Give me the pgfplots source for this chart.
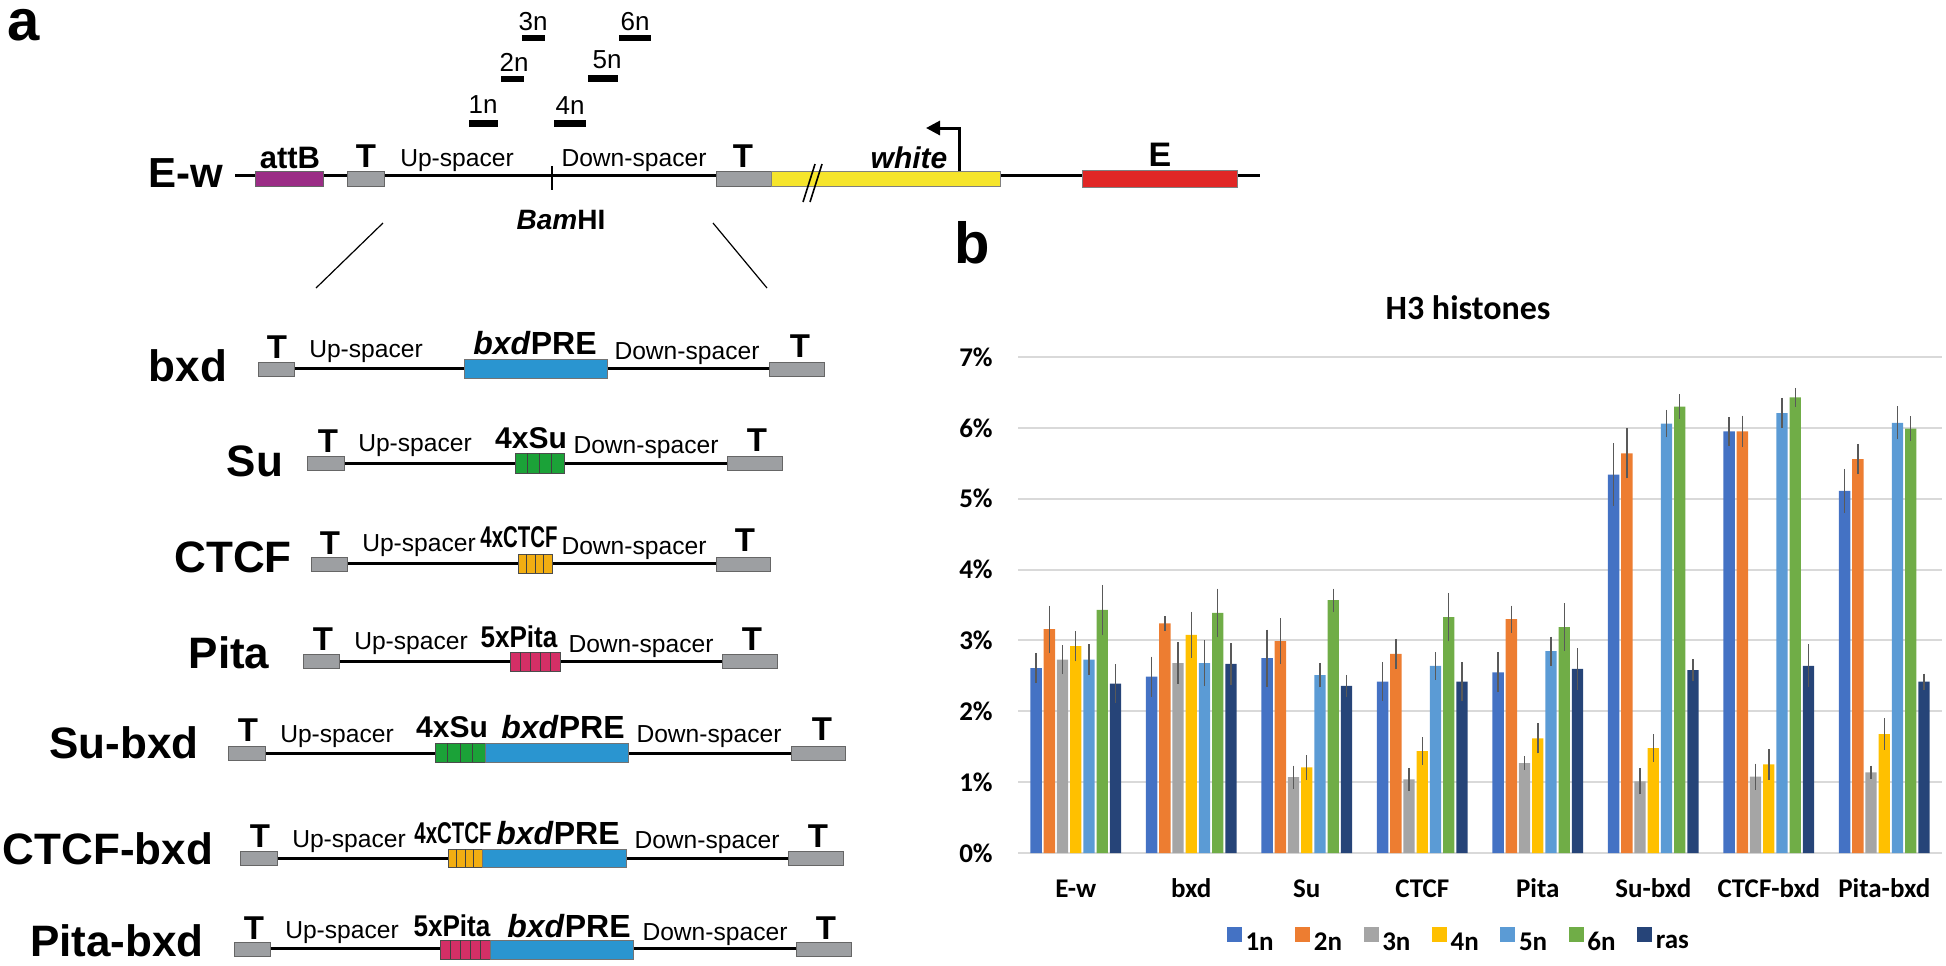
\documentclass[border=0pt]{standalone}
\usepackage{fontspec}
\setmainfont{Liberation Sans}
\newfontfamily\carlito{Carlito}
\usepackage{graphicx}
\usepackage{pgfplots}
\usepackage{pgfplotstable}
\pgfplotsset{compat=1.18}
\usetikzlibrary{arrows.meta}

\definecolor{c1}{HTML}{4472C4}
\definecolor{c2}{HTML}{ED7D31}
\definecolor{c3}{HTML}{A5A5A5}
\definecolor{c4}{HTML}{FFC000}
\definecolor{c5}{HTML}{5B9BD5}
\definecolor{c6}{HTML}{70AD47}
\definecolor{c7}{HTML}{264478}
\definecolor{errc}{HTML}{595959}
\definecolor{gridc}{HTML}{D9D9D9}
\definecolor{attb}{HTML}{9B2D86}
\definecolor{tgray}{HTML}{9D9FA2}
\definecolor{yel}{HTML}{F6E52C}
\definecolor{redE}{HTML}{E12726}
\definecolor{pre}{HTML}{2A95D0}
\definecolor{sugreen}{HTML}{1BA238}
\definecolor{ctcfor}{HTML}{F2AE12}
\definecolor{pitapk}{HTML}{D42F66}

\newcommand\fs[1]{\fontsize{#1bp}{#1bp}\selectfont}
\newcommand\Tb[3]{\filldraw[fill=tgray,draw=black!60,line width=0.5bp] (#1,#3-7) rectangle (#2,#3+7);}
\newcommand\Tl[2]{\node[font=\bfseries\fs{16.5}] at (#1,#2) {T};}
\newcommand\Lab[3]{\node[font=\bfseries\fs{22}] at (#1,#2) {#3};}
\newcommand\Sp[3]{\node[font=\fs{12.3}] at (#1,#2) {#3};}
\newcommand\segbox[6]{%
  \filldraw[fill=#5,draw=black!70,line width=0.5bp] (#1,#3) rectangle (#2,#4);
  \pgfmathsetmacro\segw{(#2-#1)/#6}
  \foreach \k in {2,...,#6}{\draw[black!75,line width=0.5bp] ({#1+(\k-1)*\segw},#3) -- ({#1+(\k-1)*\segw},#4);}}
\newcommand\prebox[4]{\filldraw[fill=pre,draw=black!55,line width=0.5bp] (#1,#3) rectangle (#2,#4);}
\newcommand\PRE[2]{\node[font=\bfseries\fs{16}] at (#1,#2) {\textit{bxd}PRE};}

\pgfplotstableread{
x a ea b eb c ec d ed e ee f ef g eg
0 2.61 0.14 3.16 0.26 2.73 0.13 2.92 0.14 2.73 0.14 3.43 0.28 2.39 0.20
1 2.49 0.21 3.24 0.03 2.68 0.22 3.08 0.25 2.68 0.25 3.39 0.27 2.67 0.22
2 2.75 0.33 2.99 0.25 1.07 0.09 1.21 0.10 2.51 0.10 3.57 0.09 2.36 0.08
3 2.42 0.20 2.81 0.14 1.04 0.09 1.44 0.12 2.64 0.12 3.33 0.27 2.42 0.20
4 2.55 0.21 3.30 0.12 1.27 0.02 1.62 0.14 2.85 0.13 3.19 0.26 2.60 0.22
5 5.34 0.37 5.64 0.28 1.01 0.11 1.48 0.12 6.06 0.12 6.30 0.10 2.58 0.08
6 5.95 0.13 5.95 0.15 1.08 0.11 1.25 0.14 6.21 0.14 6.43 0.06 2.64 0.23
7 5.11 0.24 5.56 0.14 1.14 0.02 1.68 0.15 6.07 0.16 5.99 0.10 2.42 0.04
}\data

\begin{document}
\begin{tikzpicture}
\begin{scope}[x=0.5bp,y=-0.5bp]
\path[use as bounding box] (0,0) rectangle (1946,965);
\tikzset{ln/.style={line width=1.5bp,black}}
% panel letters
\node[font=\bfseries\fs{29}, inner sep=0pt] at (24,25) {a};
\node[font=\bfseries\fs{29}, inner sep=0pt] at (972,243) {b};
% probes
\begin{scope}[every node/.style={font=\fs{13}}]
\node at (483,105) {1n}; \fill (469,120) rectangle (498,127);
\node at (514,62) {2n};  \fill (501,76) rectangle (524,82);
\node at (533,22) {3n};  \fill (522,35) rectangle (545,41);
\node at (570,106) {4n}; \fill (554,120) rectangle (586,127);
\node at (607,60) {5n};  \fill (588,75) rectangle (618,82);
\node at (635,22) {6n};  \fill (619,35) rectangle (651,41);
\end{scope}
% E-w row
\draw[ln] (235,175) -- (771,175);
\draw[ln] (1000,175) -- (1260,175);
\filldraw[fill=attb,draw=black!60,line width=0.5bp] (255,171) rectangle (323,186);
\filldraw[fill=tgray,draw=black!60,line width=0.5bp] (347,171) rectangle (384,186);
\filldraw[fill=tgray,draw=black!60,line width=0.5bp] (716,171) rectangle (771,186);
\filldraw[fill=yel,draw=black!50,line width=0.5bp] (771,171) rectangle (1000,186);
\filldraw[fill=redE,draw=black!50,line width=0.5bp] (1082,170) rectangle (1237,187);
\draw[line width=1bp] (552,166) -- (552,190);
\draw[line width=0.8bp] (803,202) -- (815,164);
\draw[line width=0.8bp] (810,202) -- (822,164);
\draw[line width=1.5bp,-{Triangle[length=7bp,width=7bp]}] (959,171) -- (959,128) -- (926,128);
\node[font=\bfseries\fs{21}] at (186,173) {E-w};
\node[font=\bfseries\fs{15.5}] at (290,158) {attB};
\Tl{366}{156}
\Sp{457}{161}{Up-spacer}
\Sp{634}{161}{Down-spacer}
\node[font=\bfseries\fs{14}] at (561,220) {\textit{Bam}HI};
\Tl{743}{156}
\node[font=\bfseries\itshape\fs{15}] at (909,158) {white};
\node[font=\bfseries\fs{17}] at (1160,155) {E};
% zoom lines
\draw[line width=0.6bp] (383,223) -- (316,288);
\draw[line width=0.6bp] (713,223) -- (767,288);
% bxd
\draw[ln] (258,368) -- (824,368);
\Tb{258}{294}{369} \Tb{769}{824}{369}
\prebox{464}{607}{359}{378}
\Lab{188}{366}{bxd} \Tl{277}{347} \Tl{800}{346}
\Sp{366}{352}{Up-spacer} \PRE{535}{343} \Sp{687}{354}{Down-spacer}
% Su
\draw[ln] (307,463) -- (782,463);
\Tb{307}{344}{463} \Tb{727}{782}{463}
\segbox{515}{564}{453}{473}{sugreen}{4}
\Lab{255}{461}{Su} \Tl{328}{441} \Tl{757}{440}
\Sp{415}{446}{Up-spacer} \Sp{646}{448}{Down-spacer}
\node[font=\bfseries\fs{15}] at (531,438) {4xSu};
% CTCF
\draw[ln] (311,563) -- (770,563);
\Tb{311}{347}{564} \Tb{716}{770}{564}
\segbox{518}{552}{554}{573}{ctcfor}{4}
\Lab{233}{557}{CTCF} \Tl{330}{543} \Tl{745}{540}
\Sp{419}{546}{Up-spacer} \Sp{634}{549}{Down-spacer}
\node[font=\bfseries\fs{15}] at (519,537) {\scalebox{0.68}[1]{4xCTCF}};
% Pita
\draw[ln] (303,661) -- (777,661);
\Tb{303}{339}{661} \Tb{722}{777}{661}
\segbox{510}{560}{652}{671}{pitapk}{5}
\Lab{229}{653}{Pita} \Tl{323}{639} \Tl{752}{639}
\Sp{411}{644}{Up-spacer} \Sp{641}{647}{Down-spacer}
\node[font=\bfseries\fs{15}] at (519,637) {\scalebox{0.87}[1]{5xPita}};
% Su-bxd
\draw[ln] (228,753) -- (845,753);
\Tb{228}{265}{753} \Tb{791}{845}{753}
\segbox{435}{485}{743}{762}{sugreen}{4}
\prebox{485}{628}{743}{762}
\Lab{124}{743}{Su-bxd} \Tl{248}{730} \Tl{822}{729}
\Sp{337}{737}{Up-spacer} \Sp{709}{737}{Down-spacer}
\node[font=\bfseries\fs{15}] at (452,727) {4xSu};
\PRE{563}{727}
% CTCF-bxd
\draw[ln] (240,858) -- (843,858);
\Tb{240}{277}{858} \Tb{788}{843}{858}
\segbox{448}{482}{849}{867}{ctcfor}{4}
\prebox{482}{626}{849}{867}
\Lab{108}{849}{CTCF-bxd} \Tl{260}{836} \Tl{818}{836}
\Sp{349}{842}{Up-spacer} \Sp{707}{843}{Down-spacer}
\node[font=\bfseries\fs{15}] at (453,833) {\scalebox{0.68}[1]{4xCTCF}};
\PRE{558}{833}
% Pita-bxd
\draw[ln] (234,948) -- (851,948);
\Tb{234}{270}{949} \Tb{796}{851}{949}
\segbox{440}{490}{940}{959}{pitapk}{5}
\prebox{490}{633}{940}{959}
\Lab{117}{941}{Pita-bxd} \Tl{254}{928} \Tl{826}{928}
\Sp{342}{933}{Up-spacer} \Sp{715}{935}{Down-spacer}
\node[font=\bfseries\fs{15}] at (452,926) {\scalebox{0.87}[1]{5xPita}};
\PRE{569}{926}
% chart title
\node[font=\carlito\bfseries\fs{17}] at (1468,308) {H3 histones};
\end{scope}

\begin{axis}[
  at={(509bp,-426.5bp)}, anchor=south west,
  scale only axis, width=462bp, height=248bp,
  xmin=-0.5, xmax=7.5, ymin=0, ymax=7,
  axis line style={draw=none},
  major tick length=0pt,
  ymajorgrids, grid style={gridc, line width=1bp},
  ytick={0,1,2,3,4,5,6,7},
  yticklabels={0\%,1\%,2\%,3\%,4\%,5\%,6\%,7\%},
  xtick={0,1,2,3,4,5,6,7},
  xticklabels={E-w,bxd,Su,CTCF,Pita,Su-bxd,CTCF-bxd,Pita-bxd},
  tick label style={font=\carlito\bfseries\fs{13.5}, inner sep=0pt},
  yticklabel style={anchor=east, xshift=-12.5bp},
  xticklabel style={anchor=base, yshift=-22bp},
  legend columns=-1,
  legend style={at={(0.478,-0.18)}, anchor=center, draw=none, fill=none,
    font=\carlito\bfseries\fs{13.5}, nodes={inner sep=1.8bp},
    /tikz/every even column/.append style={column sep=9bp}},
  mybar/.style={ybar, bar width=0.098, bar shift=0pt, draw=none,
    legend image code/.code={\fill[##1] (0bp,0.5bp) rectangle (7.5bp,8bp);}},
  eb/.style={error bars/.cd, y dir=both, y explicit,
    error bar style={color=errc, line width=0.7bp},
    error mark options={color=errc, line width=0.7bp, mark size=2.6bp}},
]
\addplot[mybar, fill=c1, eb] table[x expr=\thisrow{x}-0.3435, y=a, y error=ea]{\data};
\addlegendentry{1n}
\addplot[mybar, fill=c2, eb] table[x expr=\thisrow{x}-0.229, y=b, y error=eb]{\data};
\addlegendentry{2n}
\addplot[mybar, fill=c3, eb] table[x expr=\thisrow{x}-0.1145, y=c, y error=ec]{\data};
\addlegendentry{3n}
\addplot[mybar, fill=c4, eb] table[x expr=\thisrow{x}, y=d, y error=ed]{\data};
\addlegendentry{4n}
\addplot[mybar, fill=c5, eb] table[x expr=\thisrow{x}+0.1145, y=e, y error=ee]{\data};
\addlegendentry{5n}
\addplot[mybar, fill=c6, eb] table[x expr=\thisrow{x}+0.229, y=f, y error=ef]{\data};
\addlegendentry{6n}
\addplot[mybar, fill=c7, eb] table[x expr=\thisrow{x}+0.3435, y=g, y error=eg]{\data};
\addlegendentry{ras}
\end{axis}
\end{tikzpicture}
\end{document}
